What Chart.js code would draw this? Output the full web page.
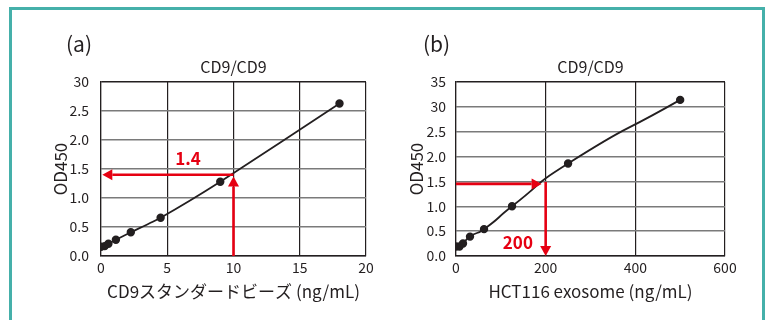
<!DOCTYPE html>
<html>
<head>
<meta charset="utf-8">
<script src="https://cdn.jsdelivr.net/npm/chart.js@4.4.0/dist/chart.umd.min.js"></script>
<style>
  html, body { margin: 0; padding: 0; background: #fff; }
  #frame { position: absolute; left: 9px; top: 7px; width: 750px; height: 340px; border: 3px solid #45b0aa; border-bottom: none; }
  canvas { position: absolute; top: 0; }
  #chartA { left: 0; }
  #chartB { left: 383px; }
</style>
</head>
<body>
<div id="frame"></div>
<canvas id="chartA" width="383" height="320"></canvas>
<canvas id="chartB" width="383" height="320"></canvas>
<script>
// standard curve (a): CD9 beads
const beadsConc = [0, 0.28, 0.56, 1.125, 2.25, 4.5, 9, 18];
const beadsOD = [0.16, 0.17, 0.21, 0.28, 0.41, 0.66, 1.28, 2.63];
// standard curve (b): HCT116 exosome
const exoConc = [0, 7.8, 15.6, 31.25, 62.5, 125, 250, 500];
const exoOD = [0.19, 0.19, 0.25, 0.39, 0.54, 1.0, 1.86, 3.14];

const yTicksA = ['0.0', '0.5', '1.0', '1.5', '2.0', '2.5', '30'];
const yTicksB = ['0.0', '0.5', '1.0', '1.5', '2.0', '2.5', '30', '35'];

// read-off values shown by the red arrows
const readA = [10, 1.4];
const readB = [200, 1.45];

const RED = '#e60012';
const INK = '#231f20';
const FONT = "'Noto Sans CJK JP', 'Noto Sans', sans-serif";
Chart.defaults.font.family = FONT;
Chart.defaults.color = '#231f20';

function arrow(ctx, x1, y1, x2, y2) {
  const head = 10, half = 5.5;
  const ang = Math.atan2(y2 - y1, x2 - x1);
  const bx = x2 - head * Math.cos(ang), by = y2 - head * Math.sin(ang);
  ctx.beginPath();
  ctx.moveTo(x1, y1);
  ctx.lineTo(bx, by);
  ctx.stroke();
  ctx.beginPath();
  ctx.moveTo(x2, y2);
  ctx.lineTo(bx + half * Math.sin(ang), by - half * Math.cos(ang));
  ctx.lineTo(bx - half * Math.sin(ang), by + half * Math.cos(ang));
  ctx.closePath();
  ctx.fill();
}

const annot = {
  id: 'annot',
  afterDatasetsDraw(chart, args, o) {
    const { ctx, chartArea } = chart;
    const xs = chart.scales.x, ys = chart.scales.y;
    ctx.save();
    ctx.strokeStyle = RED;
    ctx.fillStyle = RED;
    ctx.lineWidth = 2.6;
    o.arrows.forEach(a => arrow(ctx,
      xs.getPixelForValue(a[0]), ys.getPixelForValue(a[1]),
      xs.getPixelForValue(a[2]), ys.getPixelForValue(a[3])));
    ctx.font = 'bold 17px ' + FONT;
    ctx.textAlign = 'center';
    ctx.textBaseline = 'middle';
    ctx.fillText(o.text, xs.getPixelForValue(o.textAt[0]), ys.getPixelForValue(o.textAt[1]));

    ctx.fillStyle = INK;
    ctx.font = '16px ' + FONT;
    ctx.fillText('CD9/CD9', (chartArea.left + chartArea.right) / 2, chartArea.top - 15);
    ctx.font = '21px ' + FONT;
    ctx.textAlign = 'left';
    ctx.fillText(o.letter, o.letterX, 44);
    ctx.restore();
  }
};

function makeChart(id, xs, ys, opts) {
  return new Chart(document.getElementById(id), {
    type: 'scatter',
    data: {
      datasets: [{
        data: xs.map((x, i) => ({ x, y: ys[i] })),
        showLine: true,
        borderColor: INK,
        backgroundColor: INK,
        borderWidth: 1.8,
        pointRadius: 3.3,
        pointHoverRadius: 3.3,
        tension: opts.tension
      }]
    },
    options: {
      responsive: false,
      animation: false,
      devicePixelRatio: 1,
      layout: { padding: { left: 0, top: 82, right: opts.padRight, bottom: 0 } },
      plugins: {
        legend: { display: false },
        tooltip: { enabled: false },
        annot: opts.annot
      },
      scales: {
        x: {
          type: 'linear',
          min: 0,
          max: opts.xMax,
          ticks: { stepSize: opts.xStep, padding: 3, font: { size: 14 } },
          grid: { color: INK, lineWidth: 1.2, drawTicks: false },
          border: { color: INK, width: 1.2 },
          title: { display: true, text: opts.xTitle, font: { size: 17 }, padding: { bottom: 18 } },
          afterFit: s => { s.height = 64; }
        },
        y: {
          min: 0,
          max: opts.yMax,
          ticks: {
            stepSize: 0.5,
            padding: opts.tickPad,
            font: { size: 14 },
            callback: (v, i) => opts.yLabels[i]
          },
          grid: {
            color: c => (c.tick && (c.tick.value === 0 || c.tick.value === opts.yMax)) ? INK : '#7a7a7a',
            lineWidth: 1.5,
            drawTicks: false
          },
          border: { color: INK, width: 1.2 },
          title: { display: true, text: 'OD450', font: { size: 17 }, padding: { top: opts.titlePad } },
          afterFit: s => { s.width = opts.yWidth; }
        }
      }
    },
    plugins: [annot]
  });
}

makeChart('chartA', beadsConc, beadsOD, {
  tension: 0.2,
  padRight: 17,
  xMax: 20, xStep: 5, yMax: 3, yLabels: yTicksA,
  xTitle: 'CD9スタンダードビーズ (ng/mL)',
  tickPad: 12, titlePad: 50, yWidth: 101,
  annot: {
    arrows: [
      [readA[0], 0, readA[0], readA[1] - 0.03],
      [readA[0], readA[1], 0.1, readA[1]]
    ],
    text: '1.4', textAt: [6.56, 1.68],
    letter: '(a)', letterX: 66
  }
});

makeChart('chartB', exoConc, exoOD, {
  tension: 0.65,
  padRight: 41,
  xMax: 600, xStep: 200, yMax: 3.5, yLabels: yTicksB,
  xTitle: 'HCT116 exosome (ng/mL)',
  tickPad: 10, titlePad: 23, yWidth: 73,
  annot: {
    arrows: [
      [0, readB[1], readB[0] - 9, readB[1]],
      [readB[0], readB[1] + 0.04, readB[0], 0]
    ],
    text: '200', textAt: [138, 0.27],
    letter: '(b)', letterX: 40
  }
});
</script>
</body>
</html>
